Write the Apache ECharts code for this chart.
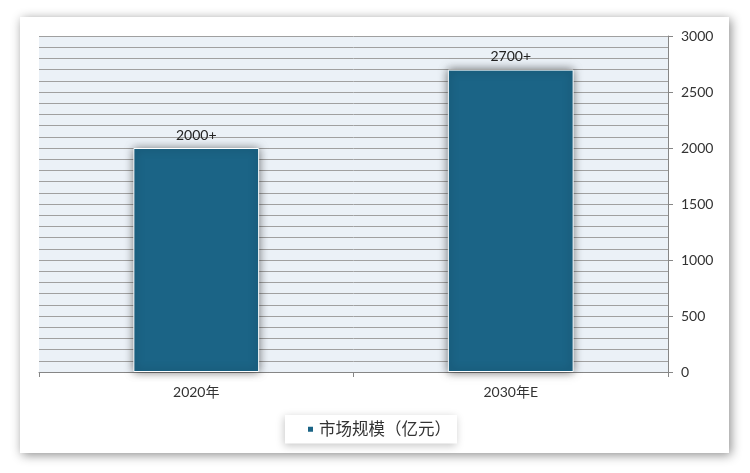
<!DOCTYPE html>
<html><head><meta charset="utf-8">
<script src="https://cdn.jsdelivr.net/npm/echarts@6/dist/echarts.min.js"></script>
<style>html,body{margin:0;padding:0;background:#fff}#c{width:750px;height:473px}</style>
</head><body><div id="c"></div>
<script>
const categories = ['2020年', '2030年E'];
const seriesName = '市场规模（亿元）';
const values = [2000, 2700];
const valueLabels = ['2000+', '2700+'];
const yTicks = [0, 500, 1000, 1500, 2000, 2500, 3000];

const chart = echarts.init(document.getElementById('c'));
const font = 'Lato, "Noto Sans CJK SC", sans-serif';
chart.setOption({
  animation: false,
  backgroundColor: '#ffffff',
  graphic: [{
    type: 'rect', z: -10, silent: true,
    shape: { x: 20, y: 17, width: 709, height: 436 },
    style: { fill: '#ffffff', shadowBlur: 10, shadowColor: 'rgba(0,0,0,0.45)', shadowOffsetX: 2, shadowOffsetY: 2 }
  }],
  grid: { left: 39, right: 82, top: 36, bottom: 101, show: true, backgroundColor: '#EBF1F7', borderWidth: 0 },
  legend: {
    data: [seriesName], top: 415, left: 285,
    icon: 'rect', itemWidth: 7, itemHeight: 7, itemGap: 6,
    padding: [6, 6, 6, 21],
    backgroundColor: '#ffffff', shadowBlur: 8, shadowColor: 'rgba(0,0,0,0.22)', shadowOffsetX: -1, shadowOffsetY: 2,
    textStyle: { fontSize: 16.5, color: '#333', fontFamily: font }
  },
  xAxis: {
    type: 'category', data: categories,
    axisLine: { lineStyle: { color: '#868686', width: 1 } },
    axisTick: { show: true, length: 5, lineStyle: { color: '#868686' } },
    axisLabel: { fontSize: 14, color: '#333', fontFamily: font, margin: 13 }
  },
  yAxis: [{
    type: 'value', min: 0, max: 3000, interval: 100, position: 'left',
    axisLine: { show: false }, axisTick: { show: false }, axisLabel: { show: false },
    splitLine: { show: true, lineStyle: { color: '#A0A0A0', width: 1 } }
  }, {
    type: 'value', min: 0, max: 3000, interval: 500, position: 'right',
    axisLine: { show: true, lineStyle: { color: '#868686' } },
    axisTick: { show: true, length: 5, lineStyle: { color: '#868686' } },
    axisLabel: { fontSize: 14, color: '#333', fontFamily: font, margin: 13,
      formatter: v => yTicks.includes(v) ? String(v) : '' },
    splitLine: { show: false }
  }],
  series: [{
    name: seriesName, type: 'bar', data: values, barWidth: '40%', yAxisIndex: 0,
    itemStyle: { color: '#1B6486', borderColor: '#ffffff', borderWidth: 1,
      shadowBlur: 9, shadowColor: 'rgba(0,0,0,0.55)', shadowOffsetX: 0, shadowOffsetY: 0 },
    label: { show: true, position: 'top', distance: 6, fontSize: 14, color: '#222', fontFamily: font,
      formatter: p => valueLabels[p.dataIndex] }
  }]
});
</script></body></html>
